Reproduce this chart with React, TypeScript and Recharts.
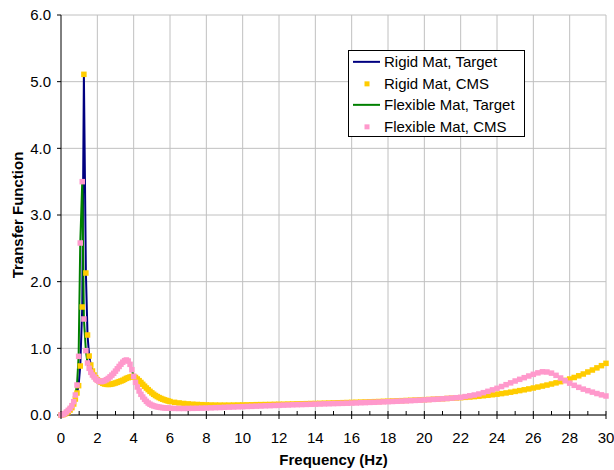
import { ComposedChart, Line, XAxis, YAxis, CartesianGrid, Label } from "recharts"

const FONT = "'Liberation Sans', Arial, sans-serif"

// frequency samples (Hz), dense around the first resonance
const freq = [
  0, 0.1, 0.2, 0.3, 0.4, 0.5, 0.6, 0.7, 0.79, 0.88, 0.97, 1.06, 1.17, 1.26, 1.37, 1.46, 1.55, 1.64, 1.73, 1.82, 1.91, 2.0,
  2.1, 2.2, 2.3, 2.4, 2.5, 2.6, 2.7, 2.8, 2.9, 3.0,
  3.1, 3.2, 3.3, 3.4, 3.5, 3.6, 3.7, 3.8, 3.9, 4.0,
  4.1, 4.2, 4.3, 4.4, 4.5, 4.6, 4.7, 4.8, 4.9, 5.0,
  5.1, 5.2, 5.3, 5.4, 5.5, 5.6, 5.7, 5.8, 5.9, 6.0,
  6.25, 6.5, 6.75, 7, 7.25, 7.5, 7.75, 8, 8.25, 8.5, 8.75, 9, 9.25, 9.5, 9.75, 10,
  10.25, 10.5, 10.75, 11, 11.25, 11.5, 11.75, 12, 12.25, 12.5, 12.75, 13, 13.25, 13.5, 13.75, 14,
  14.25, 14.5, 14.75, 15, 15.25, 15.5, 15.75, 16, 16.25, 16.5, 16.75, 17, 17.25, 17.5, 17.75, 18,
  18.25, 18.5, 18.75, 19, 19.25, 19.5, 19.75, 20, 20.25, 20.5, 20.75, 21, 21.25, 21.5, 21.75, 22,
  22.25, 22.5, 22.75, 23, 23.25, 23.5, 23.75, 24, 24.25, 24.5, 24.75, 25, 25.25, 25.5, 25.75, 26,
  26.25, 26.5, 26.75, 27, 27.25, 27.5, 27.75, 28, 28.25, 28.5, 28.75, 29, 29.25, 29.5, 29.75, 30,
]

// rigid mat transfer function (target and CMS overlap)
const rigidTF = [
  0, 0.005, 0.015, 0.03, 0.05, 0.075, 0.11, 0.165, 0.24, 0.33, 0.44, 0.735, 1.62, 5.11, 2.13, 1.2, 0.885, 0.75, 0.66, 0.6, 0.56, 0.53,
  0.51, 0.49, 0.475, 0.465, 0.46, 0.458, 0.46, 0.465, 0.472, 0.48,
  0.49, 0.5, 0.51, 0.52, 0.535, 0.55, 0.56, 0.57, 0.577, 0.577,
  0.563, 0.54, 0.515, 0.488, 0.46, 0.432, 0.405, 0.38, 0.355, 0.332,
  0.311, 0.292, 0.276, 0.261, 0.248, 0.237, 0.227, 0.218, 0.21, 0.202,
  0.19, 0.181, 0.173, 0.167, 0.162, 0.158, 0.155, 0.152, 0.15, 0.149, 0.148, 0.148, 0.148, 0.149, 0.15, 0.151,
  0.152, 0.153, 0.155, 0.156, 0.157, 0.158, 0.16, 0.161, 0.162, 0.164, 0.165, 0.167, 0.168, 0.17, 0.172, 0.173,
  0.175, 0.177, 0.179, 0.181, 0.183, 0.185, 0.187, 0.189, 0.191, 0.193, 0.195, 0.197, 0.2, 0.202, 0.205, 0.207,
  0.21, 0.212, 0.215, 0.218, 0.221, 0.224, 0.227, 0.23, 0.233, 0.237, 0.24, 0.244, 0.248, 0.252, 0.256, 0.26,
  0.265, 0.27, 0.276, 0.282, 0.289, 0.296, 0.304, 0.312, 0.321, 0.331, 0.342, 0.354, 0.366, 0.378, 0.391, 0.405,
  0.419, 0.434, 0.449, 0.465, 0.482, 0.5, 0.519, 0.54, 0.563, 0.588, 0.615, 0.645, 0.675, 0.707, 0.74, 0.775,
]

// flexible mat transfer function (target and CMS overlap)
const flexTF = [
  0, 0.008, 0.02, 0.045, 0.07, 0.1, 0.14, 0.2, 0.3, 0.45, 0.88, 2.58, 3.5, 1.44, 0.965, 0.78, 0.7, 0.64, 0.6, 0.57, 0.54, 0.52,
  0.505, 0.5, 0.505, 0.515, 0.53, 0.548, 0.572, 0.598, 0.625, 0.658,
  0.693, 0.728, 0.762, 0.792, 0.815, 0.825, 0.81, 0.76, 0.68, 0.58,
  0.49, 0.42, 0.36, 0.31, 0.27, 0.235, 0.205, 0.18, 0.162, 0.148,
  0.137, 0.129, 0.122, 0.117, 0.113, 0.11, 0.107, 0.105, 0.103, 0.101,
  0.099, 0.098, 0.098, 0.099, 0.1, 0.101, 0.103, 0.105, 0.107, 0.11, 0.112, 0.115, 0.118, 0.12, 0.123, 0.125,
  0.128, 0.13, 0.133, 0.135, 0.138, 0.14, 0.143, 0.145, 0.148, 0.15, 0.153, 0.155, 0.157, 0.159, 0.161, 0.163,
  0.165, 0.167, 0.169, 0.171, 0.173, 0.175, 0.177, 0.179, 0.181, 0.184, 0.186, 0.189, 0.191, 0.194, 0.197, 0.2,
  0.203, 0.206, 0.209, 0.212, 0.215, 0.219, 0.222, 0.226, 0.23, 0.234, 0.238, 0.243, 0.248, 0.253, 0.259, 0.265,
  0.276, 0.288, 0.3, 0.315, 0.335, 0.355, 0.377, 0.4, 0.427, 0.455, 0.482, 0.51, 0.535, 0.56, 0.585, 0.61,
  0.632, 0.648, 0.645, 0.628, 0.595, 0.555, 0.515, 0.478, 0.445, 0.415, 0.388, 0.365, 0.343, 0.322, 0.302, 0.285,
]

const xTicks = [0, 1, 2, 3, 4, 5, 6, 7, 8, 9, 10, 11, 12, 13, 14, 15, 16, 17, 18, 19, 20, 21, 22, 23, 24, 25, 26, 27, 28, 29, 30]
const xGrid = [2, 4, 6, 8, 10, 12, 14, 16, 18, 20, 22, 24, 26, 28, 30]
const yTicks = [0, 1, 2, 3, 4, 5, 6]

const COLORS = {
  rigidTarget: "#000080",
  rigidCms: "#FFCC00",
  flexTarget: "#008000",
  flexCms: "#FF99CC",
}

const legendItems = [
  { name: "Rigid Mat, Target", color: COLORS.rigidTarget, kind: "line" },
  { name: "Rigid Mat, CMS", color: COLORS.rigidCms, kind: "square" },
  { name: "Flexible Mat, Target", color: COLORS.flexTarget, kind: "line" },
  { name: "Flexible Mat, CMS", color: COLORS.flexCms, kind: "square" },
]

const rows = freq.map((f, i) => ({ f, rigid: rigidTF[i], flex: flexTF[i] }))

const SQ = 5.5

const square = (color: string) => (props: any) => {
  const { cx, cy, index } = props
  if (cx == null || cy == null) return <g key={`s-${index}`} />
  return <rect key={`s-${index}`} x={cx - SQ / 2} y={cy - SQ / 2} width={SQ} height={SQ} fill={color} />
}

const XTick = (props: any) => {
  const { x, y, payload } = props
  const v = payload.value
  const major = v % 2 === 0
  return (
    <g>
      <line x1={x} x2={x} y1={y - 4} y2={major ? y + 4 : y} stroke="#000" />
      {major && (
        <text x={x} y={y + 28} textAnchor="middle" fontSize={15} fontFamily={FONT} fill="#000">
          {v}
        </text>
      )}
    </g>
  )
}

const YTitle = (props: any) => {
  const { x, y, height } = props.viewBox
  const cx = x + 17
  const cy = y + height / 2
  return (
    <text x={cx} y={cy} transform={`rotate(-90 ${cx} ${cy})`} textAnchor="middle" dominantBaseline="central"
      fontSize={15} fontWeight="bold" fontFamily={FONT} fill="#000">
      Transfer Function
    </text>
  )
}

const XTitle = (props: any) => {
  const { x, y, width } = props.viewBox
  return (
    <text x={x + width / 2} y={y + 50} textAnchor="middle" fontSize={15} fontWeight="bold" fontFamily={FONT} fill="#000">
      Frequency (Hz)
    </text>
  )
}

export default function App() {
  return (
    <div style={{ position: "absolute", left: 0, top: 0, width: 614, height: 470, background: "#fff" }}>
      <ComposedChart width={614} height={470} data={rows} margin={{ top: 15, right: 8, left: 0, bottom: 0 }}>
        <CartesianGrid stroke="#C0C0C0" verticalValues={xGrid} />
        <XAxis
          dataKey="f"
          type="number"
          domain={[0, 30]}
          ticks={xTicks}
          interval={0}
          height={55}
          tickLine={false}
          tickSize={0}
          tickMargin={0}
          axisLine={{ stroke: "#000" }}
          tick={<XTick />}
        >
          <Label content={<XTitle />} />
        </XAxis>
        <YAxis
          type="number"
          domain={[0, 6]}
          ticks={yTicks}
          interval={0}
          width={61}
          tickSize={4}
          tickMargin={6}
          tickFormatter={(v) => v.toFixed(1)}
          axisLine={{ stroke: "#000" }}
          tickLine={{ stroke: "#000" }}
          tick={{ fontSize: 15, fontFamily: FONT, fill: "#000" }}
        >
          <Label content={<YTitle />} />
        </YAxis>
        <Line type="linear" dataKey="rigid" stroke={COLORS.rigidTarget} strokeWidth={2} dot={false} activeDot={false} isAnimationActive={false} />
        <Line type="linear" dataKey="rigid" stroke="none" dot={square(COLORS.rigidCms)} activeDot={false} isAnimationActive={false} />
        <Line type="linear" dataKey="flex" stroke={COLORS.flexTarget} strokeWidth={2} dot={false} activeDot={false} isAnimationActive={false} />
        <Line type="linear" dataKey="flex" stroke="none" dot={square(COLORS.flexCms)} activeDot={false} isAnimationActive={false} />
      </ComposedChart>

      {/* legend box drawn over the plot */}
      <div
        style={{
          position: "absolute",
          left: 348,
          top: 50,
          width: 175,
          height: 85,
          border: "1px solid #000",
          background: "#fff",
          fontFamily: FONT,
          fontSize: 15,
          color: "#000",
        }}
      >
        {legendItems.map((item, i) => (
          <div key={item.name} style={{ position: "absolute", left: 0, top: i * 21.7, height: 21.7, width: 175 }}>
            <svg width={32} height={21.7} style={{ position: "absolute", left: 0, top: 0 }}>
              {item.kind === "line" ? (
                <line x1={4} x2={31} y1={10.85} y2={10.85} stroke={item.color} strokeWidth={2} />
              ) : (
                <rect x={15.5} y={8.35} width={5} height={5} fill={item.color} />
              )}
            </svg>
            <span style={{ position: "absolute", left: 35, top: 0, lineHeight: "21.7px", whiteSpace: "nowrap" }}>{item.name}</span>
          </div>
        ))}
      </div>
    </div>
  )
}
